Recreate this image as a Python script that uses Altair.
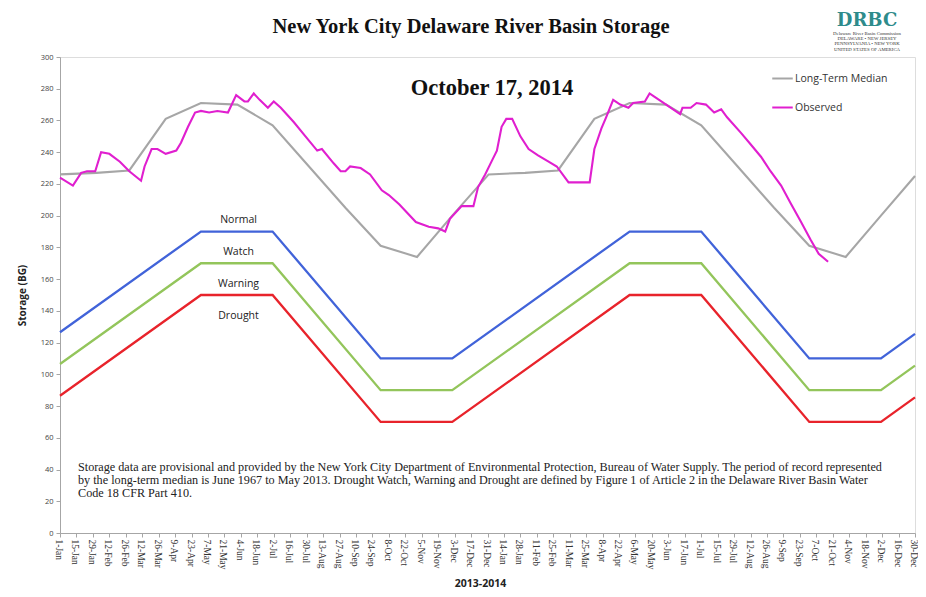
import altair as alt
import pandas as pd

# ---------------- data ----------------
obs_dates = [
    "2013-01-01", "2013-01-12", "2013-01-19", "2013-01-24", "2013-01-31", "2013-02-05",
    "2013-02-12", "2013-02-21", "2013-03-01", "2013-03-11", "2013-03-14", "2013-03-20",
    "2013-03-25", "2013-04-01", "2013-04-10", "2013-04-14", "2013-04-20", "2013-04-26",
    "2013-05-01", "2013-05-08", "2013-05-15", "2013-05-24", "2013-05-31", "2013-06-07",
    "2013-06-10", "2013-06-15", "2013-06-20", "2013-06-27", "2013-07-02", "2013-07-08",
    "2013-07-19", "2013-07-29", "2013-08-08", "2013-08-12", "2013-08-22", "2013-08-28",
    "2013-09-01", "2013-09-05", "2013-09-14", "2013-09-22", "2013-10-02", "2013-10-08",
    "2013-10-17", "2013-10-31", "2013-11-11", "2013-11-19", "2013-11-25", "2013-11-29",
    "2013-12-09", "2013-12-19", "2013-12-23", "2013-12-29", "2014-01-04", "2014-01-08",
    "2014-01-12", "2014-01-16", "2014-01-21", "2014-01-28", "2014-02-04", "2014-02-12",
    "2014-02-21", "2014-02-28", "2014-03-10", "2014-03-18", "2014-03-28", "2014-04-01",
    "2014-04-07", "2014-04-11", "2014-04-17", "2014-04-23", "2014-04-30", "2014-05-04",
    "2014-05-14", "2014-05-18", "2014-05-22", "2014-06-03", "2014-06-13", "2014-06-15",
    "2014-06-22", "2014-06-27", "2014-07-05", "2014-07-12", "2014-07-18", "2014-07-23",
    "2014-08-04", "2014-08-12", "2014-08-21", "2014-08-29", "2014-09-07", "2014-09-15",
    "2014-09-24", "2014-10-02", "2014-10-09", "2014-10-17",
]
obs_values = [
    224, 219, 227, 228, 228, 240,
    239, 234, 228, 222, 231, 242,
    242, 239, 241, 246, 256, 265,
    266, 265, 266, 265, 276, 272,
    272, 277, 273, 268, 272, 268,
    259, 250, 241, 242, 233, 228,
    228, 231, 230, 226, 216, 213,
    207, 196, 193, 192, 190, 198,
    206, 206, 218, 226, 235, 241,
    256, 261, 261, 250, 242, 238,
    234, 231, 221, 221, 221, 242,
    255, 262, 273, 270, 268, 271,
    272, 277, 275, 269, 264, 268,
    268, 271, 270, 265, 267, 262,
    252, 245, 237, 228, 219, 208,
    196, 185, 176, 171,
]

med_dates = [
    "2013-01-01", "2013-02-01", "2013-03-01", "2013-04-01", "2013-05-01", "2013-06-01",
    "2013-07-01", "2013-08-01", "2013-09-01", "2013-10-01", "2013-11-01", "2013-12-01",
    "2014-01-01", "2014-02-01", "2014-03-01", "2014-04-01", "2014-05-01", "2014-06-01",
    "2014-07-01", "2014-08-01", "2014-09-01", "2014-10-01", "2014-11-01", "2014-12-01",
    "2014-12-30",
]
med_values = [
    226, 227, 228.5, 261, 271, 270,
    257, 231, 205, 181, 174, 200,
    226, 227, 228.5, 261, 271, 270,
    257, 231, 205, 181, 174, 200,
    225,
]

rule_dates = [
    "2013-01-01", "2013-05-01", "2013-07-01", "2013-10-01", "2013-12-01",
    "2014-05-01", "2014-07-01", "2014-10-01", "2014-12-01", "2014-12-30",
]
normal_values = [126.5, 190, 190, 110, 110, 190, 190, 110, 110, 125.5]
watch_values = [106.5, 170, 170, 90, 90, 170, 170, 90, 90, 105.5]
drought_values = [86.5, 150, 150, 70, 70, 150, 150, 70, 70, 85.5]

zone_labels = ["Normal", "Watch", "Warning", "Drought"]
zone_label_dates = ["2013-06-02", "2013-06-02", "2013-06-02", "2013-06-02"]
zone_label_values = [197, 177, 157, 137]

series_names = ["Long-Term Median", "Observed"]
series_colors = ["#a6a6a6", "#e01fcf"]

note_lines = [
    "Storage data are provisional and provided by the New York City Department of Environmental Protection, Bureau of Water Supply. The period of record represented",
    "by the long-term median is June 1967 to May 2013. Drought Watch, Warning and Drought are defined by Figure 1 of Article 2 in the Delaware River Basin Water",
    "Code 18 CFR Part 410.",
]

tick_dates = pd.date_range("2013-01-01", "2014-12-30", freq="14D")
tick_ms = [int(t.value // 10**6) for t in tick_dates]
x_domain = [tick_ms[0], tick_ms[-1]]

# ---------------- frames ----------------
df_lines = pd.concat([
    pd.DataFrame({"date": med_dates, "value": med_values, "series": series_names[0]}),
    pd.DataFrame({"date": obs_dates, "value": obs_values, "series": series_names[1]}),
])
df_rules = pd.DataFrame({"date": rule_dates, "normal": normal_values,
                         "watch": watch_values, "drought": drought_values})
df_zone = pd.DataFrame({"date": zone_label_dates, "value": zone_label_values, "label": zone_labels})

x_scale = alt.Scale(type="utc", domain=x_domain, nice=False)
y_scale = alt.Scale(domain=[0, 300], nice=False)

x_axis = alt.Axis(
    values=tick_ms, labelExpr="utcFormat(datum.value, '%-d-%b')", labelAngle=90,
    labelFont="Liberation Serif", labelFontSize=9.5, labelColor="#333333",
    tickColor="#a6a6a6", tickSize=4, labelPadding=2, labelOffset=-1.5, domainColor="#a6a6a6",
    grid=False, title="2013-2014", titleFont="Open Sans", titleFontSize=10.5,
    titleFontWeight="bold", titleColor="#222222", titleX=420, titleY=50,
    titleBaseline="middle", labelOverlap=False, labelBound=False,
)
y_axis = alt.Axis(
    values=list(range(0, 301, 20)), labelFont="Open Sans", labelFontSize=7.5,
    labelColor="#444444", tickColor="#a6a6a6", tickSize=4, labelPadding=3,
    domainColor="#a6a6a6", grid=False, title="Storage (BG)", titleFont="Open Sans",
    titleFontSize=10, titleFontWeight="bold", titleColor="#222222",
    titleX=-38, titleY=238, titleAngle=-90, titleBaseline="middle", titleAlign="center",
)

rules = [
    alt.Chart(df_rules).mark_line(color=c, strokeWidth=2.3).encode(
        x=alt.X("date:T", scale=x_scale, axis=x_axis),
        y=alt.Y(f"{f}:Q", scale=y_scale, axis=y_axis),
    )
    for f, c in [("normal", "#4163d9"), ("watch", "#93c55b"), ("drought", "#e8232b")]
]

lines = alt.Chart(df_lines).mark_line(strokeWidth=2.1).encode(
    x=alt.X("date:T", scale=x_scale, axis=x_axis),
    y=alt.Y("value:Q", scale=y_scale, axis=y_axis),
    color=alt.Color("series:N", scale=alt.Scale(domain=series_names, range=series_colors),
                    legend=alt.Legend(title=None, orient="none", legendX=711, legendY=10,
                                      symbolType="stroke", symbolSize=420, symbolStrokeWidth=2,
                                      labelFont="Open Sans", labelFontSize=10.5,
                                      labelColor="#333333", rowPadding=12, labelOffset=1)),
)

zone_text = alt.Chart(df_zone).mark_text(font="Open Sans", fontSize=10.5, color="#222222",
                                          baseline="middle").encode(
    x=alt.X("date:T", scale=x_scale, axis=x_axis),
    y=alt.Y("value:Q", scale=y_scale, axis=y_axis),
    text="label:N",
)

df_title = pd.DataFrame({"t": ["New York City Delaware River Basin Storage"]})
title_text = alt.Chart(df_title).mark_text(font="Liberation Serif", fontSize=20.5,
                                           fontWeight="bold", color="#111111").encode(
    x=alt.value(411), y=alt.value(-30), text="t:N")

df_date = pd.DataFrame({"t": ["October 17, 2014"]})
date_text = alt.Chart(df_date).mark_text(font="Liberation Serif", fontSize=22.5,
                                         fontWeight="bold", color="#111111").encode(
    x=alt.value(432), y=alt.value(31), text="t:N")

df_note = pd.DataFrame({"t": ["\n".join(note_lines)]})
note_text = alt.Chart(df_note).mark_text(font="Liberation Serif", fontSize=12.2, color="#222222",
                                         align="left", baseline="top", lineBreak="\n",
                                         lineHeight=13).encode(
    x=alt.value(18), y=alt.value(404), text="t:N")

df_logo = pd.DataFrame({"t": ["DRBC"]})
logo_text = alt.Chart(df_logo).mark_text(font="DejaVu Serif", fontSize=18, fontWeight="bold",
                                         color="#2e8b8b").encode(
    x=alt.value(807), y=alt.value(-36), text="t:N")
df_logo2 = pd.DataFrame({"t": ["Delaware River Basin Commission\nDELAWARE • NEW JERSEY\nPENNSYLVANIA • NEW YORK\nUNITED STATES OF AMERICA"]})
logo_text2 = alt.Chart(df_logo2).mark_text(font="Liberation Serif", fontSize=4.8, color="#333333",
                                           lineBreak="\n", lineHeight=5.2, baseline="top").encode(
    x=alt.value(807), y=alt.value(-26), text="t:N")

chart = alt.layer(*rules, lines, zone_text, title_text, date_text, note_text,
                  logo_text, logo_text2).properties(
    width=855, height=476,
    autosize=alt.AutoSizeParams(type="none"),
    padding={"left": 52, "top": 49, "right": 3, "bottom": 56},
).configure_view(stroke="#a6a6a6", strokeWidth=1.5).configure(background="white")

chart.save("out.html", embed_options={"renderer": "svg", "actions": False})
